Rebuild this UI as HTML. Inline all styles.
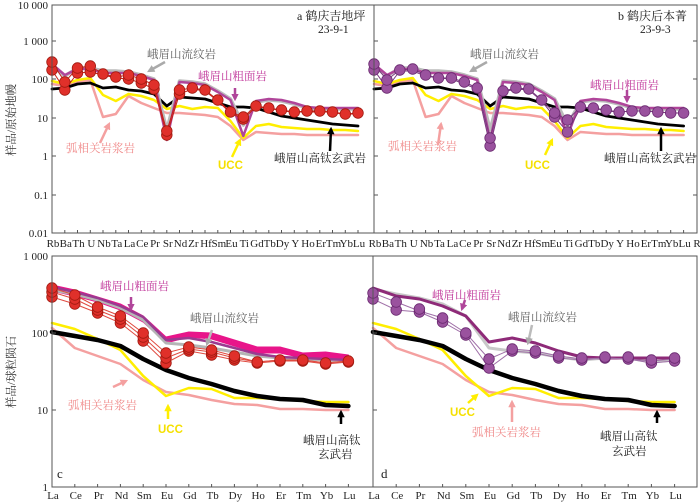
<!DOCTYPE html>
<html><head><meta charset="utf-8"><style>
body{margin:0;background:#fff;}
svg{display:block;font-family:"Liberation Serif","Noto Serif CJK SC",serif;}
.t{font-size:11px;fill:#222}
.c{font-family:"Liberation Serif","Noto Serif CJK SC","Noto Sans CJK SC",serif;font-size:11.5px}
.r{fill:#e0302a;stroke:#a01a10;stroke-width:0.8}
.p{fill:#9a529e;stroke:#6a2a70;stroke-width:0.8}
.l{fill:none;stroke-linejoin:round;stroke-linecap:round}
</style></head><body>
<svg width="700" height="502" viewBox="0 0 700 502" xmlns="http://www.w3.org/2000/svg">
<defs>
<marker id="mk" viewBox="0 0 10 10" refX="7" refY="5" markerWidth="3" markerHeight="3" orient="auto"><path d="M0,0L10,5L0,10z" fill="#000"/></marker>
<marker id="mg" viewBox="0 0 10 10" refX="7" refY="5" markerWidth="3" markerHeight="3" orient="auto"><path d="M0,0L10,5L0,10z" fill="#aaa"/></marker>
<marker id="mp" viewBox="0 0 10 10" refX="7" refY="5" markerWidth="3" markerHeight="3" orient="auto"><path d="M0,0L10,5L0,10z" fill="#b0459a"/></marker>
<marker id="mi" viewBox="0 0 10 10" refX="7" refY="5" markerWidth="3" markerHeight="3" orient="auto"><path d="M0,0L10,5L0,10z" fill="#f4a0a0"/></marker>
<marker id="my" viewBox="0 0 10 10" refX="7" refY="5" markerWidth="3" markerHeight="3" orient="auto"><path d="M0,0L10,5L0,10z" fill="#ffee00"/></marker>
<g id="topbase">
<polyline class="l" stroke="#f4a0a0" stroke-width="2.5" points="52,84 64.8,86 77.5,82 90.3,80 103,117 115.8,114 128.5,96 141.3,103 154,108 166.8,113 179.5,113 192.3,114 205,115 217.8,117 230.5,126 243.3,140 256,132 268.8,133 281.5,134 294.3,134 307,135 319.8,135 332.5,135 345.3,135 358,135"/>
<polyline class="l" stroke="#ffee00" stroke-width="2.5" points="52,81 64.8,84 77.5,80 90.3,78 103,95 115.8,101 128.5,94 141.3,96 154,100 166.8,109 179.5,106 192.3,109 205,107 217.8,108 230.5,121 243.3,138 256,126 268.8,124 281.5,127 294.3,128 307,129 319.8,129 332.5,130 345.3,130 358,131"/>
<polyline class="l" stroke="#000" stroke-width="2.8" points="52,89 64.8,88 77.5,84 90.3,83 103,88 115.8,87 128.5,90 141.3,91 154,94 166.8,106 179.5,97 192.3,98 205,99 217.8,103 230.5,107 243.3,107 256,108 268.8,112 281.5,116 294.3,118 307,120 319.8,122 332.5,124 345.3,125 358,126"/>
<polyline class="l" stroke="#bbb" stroke-width="3.5" points="52,66 64.8,76 77.5,68 90.3,68 103,71 115.8,71 128.5,72 141.3,75 154,79 166.8,130 179.5,81 192.3,82 205,84 217.8,91 230.5,99 243.3,125 256,102 268.8,100 281.5,101 294.3,104 307,108 319.8,109 332.5,109 345.3,109 358,109"/>
<polyline class="l" stroke="#b0459a" stroke-width="2.5" points="52,64 64.8,75 77.5,69 90.3,69 103,73 115.8,73 128.5,73 141.3,76 154,80 166.8,140 179.5,82 192.3,83 205,85 217.8,92 230.5,100 243.3,136 256,101 268.8,99 281.5,100 294.3,103 307,107 319.8,108 332.5,108 345.3,108 358,108"/>
</g>
<g id="botbase">
<polyline class="l" stroke="#f4a0a0" stroke-width="2.5" points="52,328 74.8,348 97.6,356 120.4,364 143.2,380 166,392 188.8,395 211.6,400 234.4,404 257.2,405 280,409 302.8,409 325.6,410 348.4,410"/>
<polyline class="l" stroke="#ffee00" stroke-width="2.5" points="52,323 74.8,329 97.6,339 120.4,350 143.2,376 166,396 188.8,388 211.6,389 234.4,398 257.2,398 280,399 302.8,401 325.6,402 348.4,402"/>
<polyline class="l" stroke="#000" stroke-width="4.5" points="52,332 74.8,336 97.6,340 120.4,346 143.2,359 166,370 188.8,378 211.6,384 234.4,391 257.2,396 280,399 302.8,400 325.6,405 348.4,406"/>
</g>
</defs>
<rect width="700" height="502" fill="#fff"/>

<!-- top panels lines -->
<use href="#topbase"/>
<use href="#topbase" transform="translate(374,0) scale(1.0118,1) translate(-52,0)"/>
<!-- left top red samples -->
<polyline class="l" stroke="#c82018" stroke-width="1" points="52,62 64.8,82 77.5,68 90.3,66 103,74 115.8,77 128.5,75 141.3,79 154,85 166.8,131 179.5,90 192.3,88 205,90 217.8,100 230.5,112 243.3,117 256,106 268.8,108 281.5,110 294.3,112 307,111 319.8,111 332.5,112 345.3,114 358,113"/>
<polyline class="l" stroke="#c82018" stroke-width="1" points="52,70 64.8,90 77.5,73 90.3,72 103,75 115.8,78 128.5,79 141.3,83 154,89 166.8,135 179.5,94 192.3,89 205,91 217.8,101 230.5,113 243.3,119 256,107 268.8,108 281.5,111 294.3,112 307,112 319.8,112 332.5,112 345.3,115 358,113"/>
<g class="r">
<circle cx="52" cy="70" r="5.3"/><circle cx="64.8" cy="90" r="5.3"/><circle cx="77.5" cy="73" r="5.3"/><circle cx="90.3" cy="72" r="5.3"/><circle cx="128.5" cy="79" r="5.3"/><circle cx="141.3" cy="83" r="5.3"/><circle cx="154" cy="89" r="5.3"/><circle cx="166.8" cy="135" r="5.3"/><circle cx="179.5" cy="94" r="5.3"/><circle cx="243.3" cy="119" r="5.3"/>
<circle cx="52" cy="62" r="5.3"/><circle cx="64.8" cy="82" r="5.3"/><circle cx="77.5" cy="68" r="5.3"/><circle cx="90.3" cy="66" r="5.3"/><circle cx="103" cy="74" r="5.3"/><circle cx="115.8" cy="77" r="5.3"/><circle cx="128.5" cy="75" r="5.3"/><circle cx="141.3" cy="79" r="5.3"/><circle cx="154" cy="85" r="5.3"/><circle cx="166.8" cy="131" r="5.3"/><circle cx="179.5" cy="90" r="5.3"/><circle cx="192.3" cy="88" r="5.3"/><circle cx="205" cy="90" r="5.3"/><circle cx="217.8" cy="100" r="5.3"/><circle cx="230.5" cy="112" r="5.3"/><circle cx="243.3" cy="117" r="5.3"/><circle cx="256" cy="106" r="5.3"/><circle cx="268.8" cy="108" r="5.3"/><circle cx="281.5" cy="110" r="5.3"/><circle cx="294.3" cy="112" r="5.3"/><circle cx="307" cy="111" r="5.3"/><circle cx="319.8" cy="111" r="5.3"/><circle cx="332.5" cy="112" r="5.3"/><circle cx="345.3" cy="114" r="5.3"/><circle cx="358" cy="113" r="5.3"/>
</g>
<!-- right top purple samples -->
<polyline class="l" stroke="#7a3a80" stroke-width="1" points="374,64 386.9,80 399.8,70 412.7,69 425.6,75 438.5,78 451.4,78 464.3,82 477.2,88 490.1,138 503,91 515.9,88 528.8,89 541.7,100 554.6,113 567.5,120 580.4,107 593.3,108 606.2,110 619.1,112 632,111 644.9,111 657.8,112 670.7,113 683.6,113"/>
<polyline class="l" stroke="#7a3a80" stroke-width="1" points="374,70 386.9,88 399.8,71 412.7,71 425.6,76 438.5,78 451.4,79 464.3,84 477.2,89 490.1,146 503,92 515.9,89 528.8,90 541.7,101 554.6,117 567.5,132 580.4,108 593.3,108 606.2,111 619.1,112 632,111 644.9,111 657.8,112 670.7,113 683.6,113"/>
<g class="p">
<circle cx="374" cy="70" r="5.3"/><circle cx="386.9" cy="88" r="5.3"/><circle cx="490.1" cy="146" r="5.3"/><circle cx="554.6" cy="117" r="5.3"/><circle cx="567.5" cy="132" r="5.3"/>
<circle cx="374" cy="64" r="5.3"/><circle cx="386.9" cy="80" r="5.3"/><circle cx="399.8" cy="70" r="5.3"/><circle cx="412.7" cy="69" r="5.3"/><circle cx="425.6" cy="75" r="5.3"/><circle cx="438.5" cy="78" r="5.3"/><circle cx="451.4" cy="78" r="5.3"/><circle cx="464.3" cy="82" r="5.3"/><circle cx="477.2" cy="88" r="5.3"/><circle cx="490.1" cy="138" r="5.3"/><circle cx="503" cy="91" r="5.3"/><circle cx="515.9" cy="88" r="5.3"/><circle cx="528.8" cy="89" r="5.3"/><circle cx="541.7" cy="100" r="5.3"/><circle cx="554.6" cy="113" r="5.3"/><circle cx="567.5" cy="120" r="5.3"/><circle cx="580.4" cy="107" r="5.3"/><circle cx="593.3" cy="108" r="5.3"/><circle cx="606.2" cy="110" r="5.3"/><circle cx="619.1" cy="112" r="5.3"/><circle cx="632" cy="111" r="5.3"/><circle cx="644.9" cy="111" r="5.3"/><circle cx="657.8" cy="112" r="5.3"/><circle cx="670.7" cy="113" r="5.3"/><circle cx="683.6" cy="113" r="5.3"/>
</g>

<!-- bottom panels -->
<use href="#botbase"/>
<use href="#botbase" transform="translate(373,0) scale(1.0175,1) translate(-52,0)"/>
<polygon fill="#e8158a" stroke="#e8158a" stroke-width="1" stroke-linejoin="round" points="52,285 74.8,290 97.6,297 120.4,304 143.2,316 166,337 188.8,332 211.6,333 234.4,340 257.2,347 280,347 302.8,353 325.6,352 348.4,355 348.4,361 325.6,358 302.8,358 280,353 257.2,353 234.4,346 211.6,339 188.8,337 166,343 143.2,322 120.4,310 97.6,302 74.8,296 52,291"/>
<polyline class="l" stroke="#b5b5b5" stroke-width="3" points="52,290 74.8,294 97.6,300 120.4,308 143.2,320 166,343 188.8,345 211.6,348 234.4,352 257.2,356 280,358 302.8,359 325.6,360 348.4,361"/>
<polyline class="l" stroke="#9a3a90" stroke-width="2.5" points="52,287 74.8,292 97.6,298 120.4,306 143.2,317 166,340 188.8,338 211.6,342 234.4,348 257.2,354 280,357 302.8,358 325.6,359 348.4,360"/>
<g fill="none" stroke="#e04a40" stroke-width="1">
<polyline points="52,288 74.8,295 97.6,307 120.4,316 143.2,333 166,353 188.8,347 211.6,350 234.4,356 257.2,362 280,360 302.8,360 325.6,363 348.4,361"/>
<polyline points="52,292 74.8,299 97.6,310 120.4,319 143.2,337 166,358 188.8,349 211.6,352 234.4,358 257.2,362 280,360 302.8,360 325.6,363 348.4,361"/>
<polyline points="52,297 74.8,304 97.6,313 120.4,323 143.2,341 166,363 188.8,351 211.6,355 234.4,360 257.2,363 280,361 302.8,361 325.6,364 348.4,362"/>
</g>
<g class="r">
<circle cx="52" cy="297" r="5.3"/><circle cx="74.8" cy="304" r="5.3"/><circle cx="97.6" cy="313" r="5.3"/><circle cx="120.4" cy="323" r="5.3"/><circle cx="143.2" cy="341" r="5.3"/><circle cx="166" cy="363" r="5.3"/><circle cx="188.8" cy="351" r="5.3"/><circle cx="211.6" cy="355" r="5.3"/><circle cx="234.4" cy="360" r="5.3"/><circle cx="257.2" cy="363" r="5.3"/><circle cx="280" cy="361" r="5.3"/><circle cx="302.8" cy="361" r="5.3"/><circle cx="325.6" cy="364" r="5.3"/><circle cx="348.4" cy="362" r="5.3"/>
<circle cx="52" cy="292" r="5.3"/><circle cx="74.8" cy="299" r="5.3"/><circle cx="97.6" cy="310" r="5.3"/><circle cx="120.4" cy="319" r="5.3"/><circle cx="143.2" cy="337" r="5.3"/><circle cx="166" cy="358" r="5.3"/><circle cx="188.8" cy="349" r="5.3"/><circle cx="211.6" cy="352" r="5.3"/><circle cx="234.4" cy="358" r="5.3"/>
<circle cx="52" cy="288" r="5.3"/><circle cx="74.8" cy="295" r="5.3"/><circle cx="97.6" cy="307" r="5.3"/><circle cx="120.4" cy="316" r="5.3"/><circle cx="143.2" cy="333" r="5.3"/><circle cx="166" cy="353" r="5.3"/><circle cx="188.8" cy="347" r="5.3"/><circle cx="211.6" cy="350" r="5.3"/><circle cx="234.4" cy="356" r="5.3"/><circle cx="257.2" cy="362" r="5.3"/><circle cx="280" cy="360" r="5.3"/><circle cx="302.8" cy="360" r="5.3"/><circle cx="325.6" cy="363" r="5.3"/><circle cx="348.4" cy="361" r="5.3"/>
</g>
<polyline class="l" stroke="#c8c8c8" stroke-width="3" points="373,289 396.2,294 419.4,298 442.6,304 465.8,316 489,348 512.2,351 535.4,353 558.6,357 581.8,360 605,358 628.2,358 651.4,362 674.6,360"/>
<polyline class="l" stroke="#8e2a78" stroke-width="3" points="373,288 396.2,296 419.4,299 442.6,306 465.8,316 489,342 512.2,338 535.4,343 558.6,351 581.8,357 605,358 628.2,358 651.4,358 674.6,358"/>
<g fill="none" stroke="#a070a8" stroke-width="1">
<polyline points="373,299 396.2,310 419.4,312 442.6,322 465.8,335 489,368 512.2,351 535.4,353 558.6,358 581.8,360 605,358 628.2,359 651.4,363 674.6,361"/>
<polyline points="373,293 396.2,302 419.4,311 442.6,318 465.8,333 489,359 512.2,349 535.4,351 558.6,356 581.8,359 605,358 628.2,359 651.4,361 674.6,359"/>
</g>
<g class="p">
<circle cx="373" cy="299" r="5.3"/><circle cx="396.2" cy="310" r="5.3"/><circle cx="419.4" cy="312" r="5.3"/><circle cx="442.6" cy="322" r="5.3"/><circle cx="465.8" cy="335" r="5.3"/><circle cx="489" cy="368" r="5.3"/><circle cx="512.2" cy="351" r="5.3"/><circle cx="535.4" cy="353" r="5.3"/><circle cx="558.6" cy="358" r="5.3"/><circle cx="581.8" cy="360" r="5.3"/><circle cx="605" cy="358" r="5.3"/><circle cx="628.2" cy="359" r="5.3"/><circle cx="651.4" cy="363" r="5.3"/><circle cx="674.6" cy="361" r="5.3"/>
<circle cx="373" cy="293" r="5.3"/><circle cx="396.2" cy="302" r="5.3"/><circle cx="419.4" cy="309" r="5.3"/><circle cx="442.6" cy="318" r="5.3"/><circle cx="465.8" cy="333" r="5.3"/><circle cx="489" cy="359" r="5.3"/><circle cx="512.2" cy="349" r="5.3"/><circle cx="535.4" cy="351" r="5.3"/><circle cx="558.6" cy="356" r="5.3"/><circle cx="581.8" cy="358" r="5.3"/><circle cx="605" cy="357" r="5.3"/><circle cx="628.2" cy="357" r="5.3"/><circle cx="651.4" cy="360" r="5.3"/><circle cx="674.6" cy="358" r="5.3"/>
</g>

<!-- frames -->
<g fill="none" stroke="#555" stroke-width="1">
<rect x="52" y="5" width="322" height="228"/>
<rect x="374" y="5" width="323" height="228"/>
<rect x="52" y="256" width="321" height="231"/>
<rect x="373" y="256" width="324" height="231"/>
<path d="M52,41h4M52,79h4M52,118h4M52,156h4M52,195h4M374,41h4M374,79h4M374,118h4M374,156h4M374,195h4M697,41h-4M697,79h-4M697,118h-4M697,156h-4M697,195h-4M52,333h4M52,410h4M373,333h4M373,410h4"/>
<path d="M64.8,233v-3M77.5,233v-3M90.3,233v-3M103,233v-3M115.8,233v-3M128.5,233v-3M141.3,233v-3M154,233v-3M166.8,233v-3M179.5,233v-3M192.3,233v-3M205,233v-3M217.8,233v-3M230.5,233v-3M243.3,233v-3M256,233v-3M268.8,233v-3M281.5,233v-3M294.3,233v-3M307,233v-3M319.8,233v-3M332.5,233v-3M345.3,233v-3M358,233v-3M386.9,233v-3M399.8,233v-3M412.7,233v-3M425.6,233v-3M438.5,233v-3M451.4,233v-3M464.3,233v-3M477.2,233v-3M490.1,233v-3M503,233v-3M515.9,233v-3M528.8,233v-3M541.7,233v-3M554.6,233v-3M567.5,233v-3M580.4,233v-3M593.3,233v-3M606.2,233v-3M619.1,233v-3M632,233v-3M644.9,233v-3M657.8,233v-3M670.7,233v-3M683.6,233v-3"/>
<path d="M74.8,487v-3M97.6,487v-3M120.4,487v-3M143.2,487v-3M166,487v-3M188.8,487v-3M211.6,487v-3M234.4,487v-3M257.2,487v-3M280,487v-3M302.8,487v-3M325.6,487v-3M348.4,487v-3M396.2,487v-3M419.4,487v-3M442.6,487v-3M465.8,487v-3M489,487v-3M512.2,487v-3M535.4,487v-3M558.6,487v-3M581.8,487v-3M605,487v-3M628.2,487v-3M651.4,487v-3M674.6,487v-3"/>
</g>

<!-- y labels -->
<g class="t" text-anchor="end">
<text x="48" y="9">10 000</text><text x="48" y="45">1 000</text><text x="48" y="83">100</text>
<text x="48" y="122">10</text><text x="48" y="160">1</text><text x="48" y="199">0.1</text><text x="48" y="237">0.01</text>
<text x="48" y="260">1 000</text><text x="48" y="337">100</text><text x="48" y="414">10</text><text x="48" y="491">1</text>
</g>
<text class="c" transform="translate(15,120) rotate(-90)" text-anchor="middle" fill="#333">样品/原始地幔</text>
<text class="c" transform="translate(15,372) rotate(-90)" text-anchor="middle" fill="#333">样品/球粒陨石</text>

<!-- x labels -->
<g class="t" text-anchor="middle" font-size="10.5">
<text x="53" y="247">Rb</text><text x="65.8" y="247">Ba</text><text x="78.5" y="247">Th</text><text x="91.3" y="247">U</text><text x="104" y="247">Nb</text><text x="116.8" y="247">Ta</text><text x="129.5" y="247">La</text><text x="142.3" y="247">Ce</text><text x="155" y="247">Pr</text><text x="167.8" y="247">Sr</text><text x="180.5" y="247">Nd</text><text x="193.3" y="247">Zr</text><text x="206" y="247">Hf</text><text x="218.8" y="247">Sm</text><text x="231.5" y="247">Eu</text><text x="244.3" y="247">Ti</text><text x="257" y="247">Gd</text><text x="269.8" y="247">Tb</text><text x="282.5" y="247">Dy</text><text x="295.3" y="247">Y</text><text x="308" y="247">Ho</text><text x="320.8" y="247">Er</text><text x="333.5" y="247">Tm</text><text x="346.3" y="247">Yb</text><text x="359" y="247">Lu</text>
<text x="375" y="247">Rb</text><text x="387.9" y="247">Ba</text><text x="400.8" y="247">Th</text><text x="413.7" y="247">U</text><text x="426.6" y="247">Nb</text><text x="439.5" y="247">Ta</text><text x="452.4" y="247">La</text><text x="465.3" y="247">Ce</text><text x="478.2" y="247">Pr</text><text x="491.1" y="247">Sr</text><text x="504" y="247">Nd</text><text x="516.9" y="247">Zr</text><text x="529.8" y="247">Hf</text><text x="542.7" y="247">Sm</text><text x="555.6" y="247">Eu</text><text x="568.5" y="247">Ti</text><text x="581.4" y="247">Gd</text><text x="594.3" y="247">Tb</text><text x="607.2" y="247">Dy</text><text x="620.1" y="247">Y</text><text x="633" y="247">Ho</text><text x="645.9" y="247">Er</text><text x="658.8" y="247">Tm</text><text x="671.7" y="247">Yb</text><text x="684.6" y="247">Lu</text><text x="697" y="247">R</text>
</g>
<g class="t" text-anchor="middle" font-size="11">
<text x="53" y="499">La</text><text x="75.8" y="499">Ce</text><text x="98.6" y="499">Pr</text><text x="121.4" y="499">Nd</text><text x="144.2" y="499">Sm</text><text x="167" y="499">Eu</text><text x="189.8" y="499">Gd</text><text x="212.6" y="499">Tb</text><text x="235.4" y="499">Dy</text><text x="258.2" y="499">Ho</text><text x="281" y="499">Er</text><text x="303.8" y="499">Tm</text><text x="326.6" y="499">Yb</text><text x="349.4" y="499">Lu</text>
<text x="374" y="499">La</text><text x="397.2" y="499">Ce</text><text x="420.4" y="499">Pr</text><text x="443.6" y="499">Nd</text><text x="466.8" y="499">Sm</text><text x="490" y="499">Eu</text><text x="513.2" y="499">Gd</text><text x="536.4" y="499">Tb</text><text x="559.6" y="499">Dy</text><text x="582.8" y="499">Ho</text><text x="606" y="499">Er</text><text x="629.2" y="499">Tm</text><text x="652.4" y="499">Yb</text><text x="675.6" y="499">Lu</text>
</g>

<!-- panel labels -->
<g class="c" fill="#222">
<text x="297" y="20" font-size="12">a  鹤庆吉地坪</text><text x="318" y="33">23-9-1</text>
<text x="618" y="20" font-size="12">b  鹤庆后本菁</text><text x="640" y="33">23-9-3</text>
<text x="57" y="478" font-size="13">c</text><text x="381" y="478" font-size="13">d</text>
</g>
<g class="c">
<text x="147" y="58" fill="#666">峨眉山流纹岩</text>
<text x="198" y="80" fill="#c0369a">峨眉山粗面岩</text>
<text x="66" y="152" fill="#f08a8a">弧相关岩浆岩</text>
<text x="218" y="169" fill="#f5e000" font-family="Liberation Sans" font-weight="bold">UCC</text>
<text x="274" y="162" fill="#222">峨眉山高钛玄武岩</text>
<text x="470" y="58" fill="#666">峨眉山流纹岩</text>
<text x="590" y="89" fill="#c0369a">峨眉山粗面岩</text>
<text x="388" y="150" fill="#f08a8a">弧相关岩浆岩</text>
<text x="525" y="169" fill="#f5e000" font-family="Liberation Sans" font-weight="bold">UCC</text>
<text x="604" y="162" fill="#222">峨眉山高钛玄武岩</text>
<text x="100" y="290" fill="#c0369a">峨眉山粗面岩</text>
<text x="190" y="322" fill="#666">峨眉山流纹岩</text>
<text x="68" y="409" fill="#f08a8a">弧相关岩浆岩</text>
<text x="158" y="433" fill="#f5e000" font-family="Liberation Sans" font-weight="bold">UCC</text>
<text x="303" y="444" fill="#222">峨眉山高钛</text><text x="318" y="458" fill="#222">玄武岩</text>
<text x="432" y="299" fill="#c0369a">峨眉山粗面岩</text>
<text x="508" y="321" fill="#666">峨眉山流纹岩</text>
<text x="450" y="416" fill="#f5e000" font-family="Liberation Sans" font-weight="bold">UCC</text>
<text x="472" y="436" fill="#f08a8a">弧相关岩浆岩</text>
<text x="600" y="440" fill="#222">峨眉山高钛</text><text x="612" y="455" fill="#222">玄武岩</text>
</g>

<!-- arrows -->
<g fill="none" stroke-width="2.5">
<line x1="165" y1="62" x2="149" y2="71" stroke="#aaa" marker-end="url(#mg)"/>
<line x1="235" y1="88" x2="235" y2="99" stroke="#b0459a" marker-end="url(#mp)"/>
<line x1="100" y1="143" x2="109" y2="124" stroke="#f4a0a0" marker-end="url(#mi)"/>
<line x1="232" y1="157" x2="240" y2="140" stroke="#ffee00" marker-end="url(#my)"/>
<line x1="330" y1="151" x2="331" y2="129" stroke="#000" marker-end="url(#mk)"/>
<line x1="487" y1="62" x2="471" y2="71" stroke="#aaa" marker-end="url(#mg)"/>
<line x1="627" y1="90" x2="627" y2="101" stroke="#b0459a" marker-end="url(#mp)"/>
<line x1="438" y1="145" x2="441" y2="124" stroke="#f4a0a0" marker-end="url(#mi)"/>
<line x1="545" y1="155" x2="552" y2="140" stroke="#ffee00" marker-end="url(#my)"/>
<line x1="661" y1="151" x2="661" y2="129" stroke="#000" marker-end="url(#mk)"/>
<line x1="131" y1="297" x2="131" y2="309" stroke="#b0459a" marker-end="url(#mp)"/>
<line x1="212" y1="330" x2="207" y2="344" stroke="#bbb" marker-end="url(#mg)"/>
<line x1="113" y1="387" x2="126" y2="381" stroke="#f4a0a0" marker-end="url(#mi)"/>
<line x1="168" y1="419" x2="168" y2="406" stroke="#ffee00" marker-end="url(#my)"/>
<line x1="341" y1="424" x2="341" y2="412" stroke="#000" marker-end="url(#mk)"/>
<line x1="465" y1="300" x2="462" y2="309" stroke="#b0459a" marker-end="url(#mp)"/>
<line x1="532" y1="325" x2="528" y2="343" stroke="#bbb" marker-end="url(#mg)"/>
<line x1="468" y1="403" x2="477" y2="395" stroke="#ffee00" marker-end="url(#my)"/>
<line x1="512" y1="422" x2="512" y2="402" stroke="#f4a0a0" marker-end="url(#mi)"/>
<line x1="657" y1="423" x2="657" y2="412" stroke="#000" marker-end="url(#mk)"/>
</g>
</svg>
</body></html>
